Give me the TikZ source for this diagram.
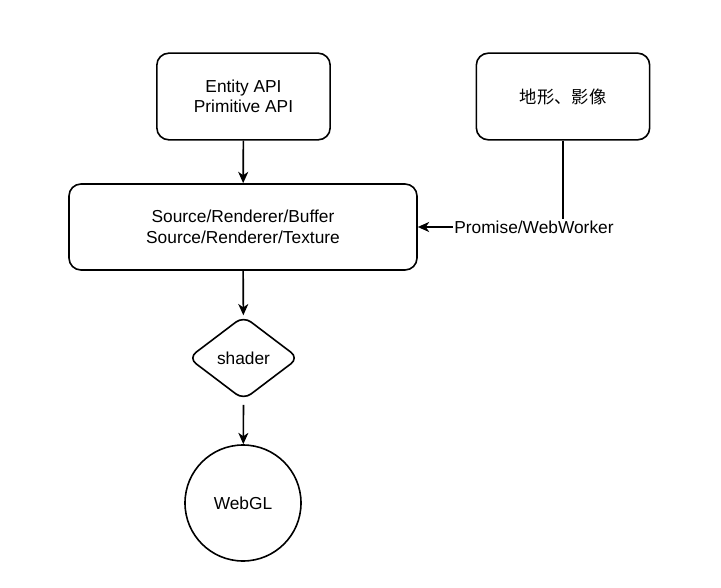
\documentclass[tikz,border=0pt]{standalone}
\usepackage{fontspec}
\setmainfont{Liberation Sans}
\newfontfamily\cjk{Noto Sans CJK SC}
\usetikzlibrary{shapes.geometric, arrows.meta}

\begin{document}
\begin{tikzpicture}[x=0.75pt, y=-0.75pt,
    every node/.style={font=\fontsize{13}{15}\selectfont, align=center},
    box/.style={draw, line width=1.2pt, rounded corners=9pt, inner sep=0pt},
    decision/.style={draw, diamond, line width=1.2pt, rounded corners=7pt, inner sep=0pt,
        minimum width=83pt, minimum height=63pt},
    endpoint/.style={draw, circle, line width=1.2pt, minimum size=87pt, inner sep=0pt},
    flow/.style={draw, line width=1.2pt, -{Stealth[length=8.5pt, width=7.5pt, inset=2.5pt]}}]

    \useasboundingbox (0,0) rectangle (721,588);

    % top row
    \node[box, minimum width=130pt, minimum height=65pt] (api) at (243.5,96.5)
        {Entity API\\Primitive API};
    \node[box, minimum width=130pt, minimum height=65pt] (terrain) at (563,96.5)
        {\cjk 地形、影像};

    % middle
    \node[box, minimum width=261pt, minimum height=64.5pt] (source) at (243,227)
        {Source/Renderer/Buffer\\[1pt]Source/Renderer/Texture};

    % bottom
    \node[decision] (shader) at (243.5,358) {shader};
    \node[endpoint] (webgl) at (243,503) {WebGL};

    % connectors
    \draw[flow] (api) -- (source);
    \draw[flow] (source) -- (shader);
    \draw[flow] ([yshift=-3pt]shader.south) -- (webgl);
    \draw[flow] (terrain) |- node[fill=white, inner sep=1pt, pos=0.6] {Promise/WebWorker} (source);
\end{tikzpicture}
\end{document}
